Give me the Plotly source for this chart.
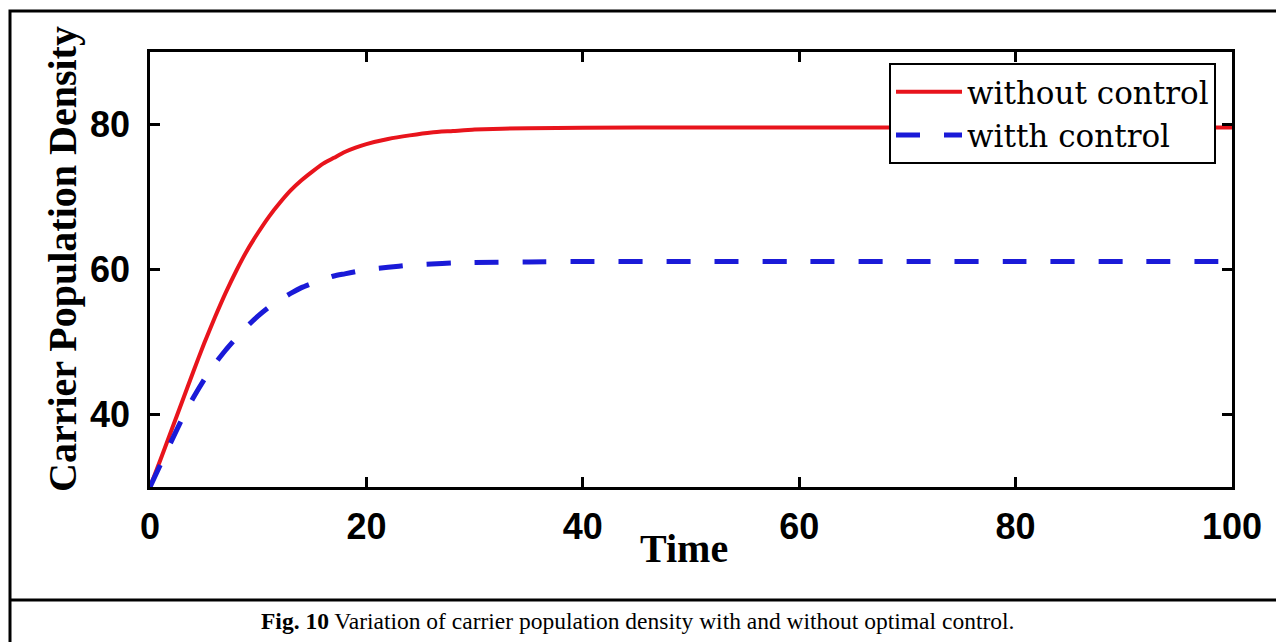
import plotly.graph_objects as go

# Data
time_pts = [0, 1, 2, 3, 4, 5, 6, 7, 8, 9, 10, 11, 12, 13, 14, 15, 16, 17, 18, 19, 20,
            22, 24, 26, 28, 30, 35, 40, 50, 60, 70, 80, 90, 100]
without_control = [30.0, 33.9, 37.9, 41.9, 45.9, 49.8, 53.4, 56.8, 59.9, 62.7, 65.1, 67.3, 69.2,
                   70.9, 72.3, 73.5, 74.6, 75.4, 76.2, 76.8, 77.3,
                   78.0, 78.5, 78.9, 79.1, 79.3, 79.5, 79.55, 79.6, 79.6, 79.6, 79.6, 79.6, 79.6]
with_control = [30.0, 33.2, 36.4, 39.5, 42.3, 44.8, 47.0, 48.9, 50.6, 52.2, 53.6, 54.8, 55.8,
                56.7, 57.5, 58.1, 58.6, 59.1, 59.4, 59.7, 60.0,
                60.3, 60.6, 60.75, 60.9, 60.95, 61.05, 61.1, 61.1, 61.1, 61.1, 61.1, 61.1, 61.1]
x_ticks = [0, 20, 40, 60, 80, 100]
y_ticks = [40, 60, 80]

# Layout geometry (pixels)
W, H = 1276, 642
L, R, T, B = 150, 1232, 52, 487
pw, ph = R - L, B - T


def px(x):
    return (x - L) / pw


def py(y):
    return (B - y) / ph


fig = go.Figure()
fig.add_trace(go.Scatter(x=time_pts, y=without_control, mode="lines", name="without control",
                         line=dict(color="#e8141c", width=4, shape="spline", smoothing=0.6)))
fig.add_trace(go.Scatter(x=time_pts, y=with_control, mode="lines", name="witth control",
                         line=dict(color="#1a1ad8", width=5, dash="24px,24px",
                                   shape="spline", smoothing=0.6)))

axis_common = dict(showline=True, linecolor="black", linewidth=2.5, mirror="ticks",
                   ticks="inside", ticklen=10, tickwidth=2.5, tickcolor="black",
                   showgrid=False, zeroline=False,
                   tickfont=dict(family="Liberation Sans", size=36, color="black", weight="bold"))

fig.update_xaxes(range=[0, 100], tickvals=x_ticks, ticklabelstandoff=6, **axis_common)
fig.update_yaxes(range=[30, 90], tickvals=y_ticks, ticklabelstandoff=10, **axis_common)

fig.update_layout(
    width=W, height=H,
    margin=dict(l=L, r=W - R, t=T, b=H - B),
    paper_bgcolor="white", plot_bgcolor="white",
    showlegend=True,
    legend=dict(x=px(1216), y=py(63), xanchor="right", yanchor="top",
                bgcolor="white", bordercolor="black", borderwidth=2,
                font=dict(family="DejaVu Serif", size=31, color="black"),
                itemwidth=66, tracegroupgap=0),
    shapes=[
        dict(type="rect", xref="paper", yref="paper", x0=px(10), x1=px(1300), y0=py(660), y1=py(11),
             line=dict(color="black", width=3), fillcolor="rgba(0,0,0,0)", layer="below"),
        dict(type="line", xref="paper", yref="paper", x0=px(10), x1=px(1300), y0=py(600), y1=py(600),
             line=dict(color="black", width=3)),
    ],
    annotations=[
        dict(text="<b>Time</b>", xref="paper", yref="paper", x=px(684), y=py(548),
             showarrow=False, xanchor="center", yanchor="middle",
             font=dict(family="Liberation Serif", size=40, color="black")),
        dict(text="<b>Carrier Population Density</b>", xref="paper", yref="paper",
             x=px(62), y=py(259), showarrow=False, textangle=-90,
             xanchor="center", yanchor="middle",
             font=dict(family="Liberation Serif", size=40, color="black")),
        dict(text="<b>Fig. 10</b> Variation of carrier population density with and without optimal control.",
             xref="paper", yref="paper", x=px(637), y=py(621), showarrow=False,
             xanchor="center", yanchor="middle",
             font=dict(family="Liberation Serif", size=23.5, color="black")),
    ],
)

fig.write_html("out.html")
